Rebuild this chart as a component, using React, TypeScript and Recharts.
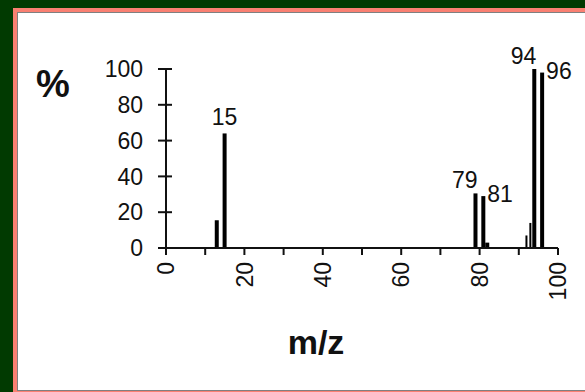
import React from 'react'
import { BarChart, Bar, XAxis, YAxis, LabelList } from 'recharts'

// CH3Br mass spectrum, relative abundance
const mzValues = [13, 15, 79, 81, 82, 92, 93, 94, 96]
const abundances = [15.5, 64, 30.5, 29, 3, 7, 14, 100, 98]
const labelledPeaks = [15, 79, 81, 94, 96]
const yTicks = [0, 20, 40, 60, 80, 100]
const xTicks = [0, 10, 20, 30, 40, 50, 60, 70, 80, 90, 100]
const xTickLabels = [0, 20, 40, 60, 80, 100]

const data = mzValues.map((mz, i) => ({ mz, abundance: abundances[i] }))

const FONT = '"Liberation Sans", Arial, sans-serif'
const INK = '#111'

// where each peak label sits relative to its bar
const labelSide: Record<number, 'top' | 'left' | 'right'> = {
  15: 'top',
  79: 'left',
  81: 'right',
  94: 'left',
  96: 'right',
}

const PeakShape = (props: any) => {
  const { x, y, width, height, payload } = props
  const w = payload.abundance < 15 && payload.mz > 85 ? 2 : 4
  const cx = x + width / 2
  return <rect x={cx - w / 2} y={y} width={w} height={height} fill="#000" />
}

const PeakLabel = (props: any) => {
  const { x, y, width, value } = props
  if (!labelledPeaks.includes(value)) return null
  const cx = x + width / 2
  const side = labelSide[value]
  let tx = cx
  let ty = y - 8
  let anchor: 'middle' | 'end' | 'start' = 'middle'
  if (side === 'left') {
    tx = cx + 2
    ty = y - 5
    anchor = 'end'
  } else if (side === 'right') {
    tx = cx + 4
    ty = y + 6
    anchor = 'start'
  }
  return (
    <text x={tx} y={ty} textAnchor={anchor} fontSize={23} fontFamily={FONT} fill={INK}>
      {value}
    </text>
  )
}

const YTick = (props: any) => {
  const { x, y, payload } = props
  return (
    <g>
      <line x1={x - 8} x2={x + 6} y1={y} y2={y} stroke={INK} strokeWidth={2} />
      <text x={x - 23} y={y} dy="0.36em" textAnchor="end" fontSize={23} fontFamily={FONT} fill={INK}>
        {payload.value}
      </text>
    </g>
  )
}

const XTick = (props: any) => {
  const { x, y, payload } = props
  return (
    <g>
      <line x1={x} x2={x} y1={y} y2={y + 7} stroke={INK} strokeWidth={2} />
      {xTickLabels.includes(payload.value) && (
        <text
          transform={`translate(${x},${y + 14}) rotate(-90)`}
          dy="0.36em"
          textAnchor="end"
          fontSize={23}
          fontFamily={FONT}
          fill={INK}
        >
          {payload.value}
        </text>
      )}
    </g>
  )
}

export default function App() {
  return (
    <div
      style={{
        position: 'absolute',
        left: 0,
        top: 0,
        width: 585,
        height: 392,
        background: '#013a01',
        overflow: 'hidden',
      }}
    >
      <div
        style={{ position: 'absolute', left: 13, top: 8, width: 700, height: 400, background: '#fa8072' }}
      />
      <div
        style={{
          position: 'absolute',
          left: 17,
          top: 12,
          width: 700,
          height: 379,
          boxSizing: 'border-box',
          border: '1px solid #808080',
          background: '#fff',
        }}
      />
      <div
        style={{
          position: 'absolute',
          left: 36,
          top: 60,
          fontFamily: FONT,
          fontWeight: 'bold',
          fontSize: 38,
          lineHeight: '48px',
          color: INK,
        }}
      >
        %
      </div>
      <div
        style={{
          position: 'absolute',
          left: 0,
          width: 632,
          top: 320,
          textAlign: 'center',
          fontFamily: FONT,
          fontWeight: 'bold',
          fontSize: 34,
          lineHeight: '44px',
          color: INK,
        }}
      >
        m/z
      </div>
      <div style={{ position: 'absolute', left: 0, top: 0 }}>
        <BarChart
          width={585}
          height={392}
          data={data}
          margin={{ top: 69, right: 27, bottom: 84, left: 106 }}
        >
          <XAxis
            dataKey="mz"
            type="number"
            domain={[0, 100]}
            ticks={xTicks}
            interval={0}
            height={60}
            tickSize={0}
            tickMargin={0}
            tickLine={false}
            axisLine={{ stroke: INK, strokeWidth: 2 }}
            tick={<XTick />}
          />
          <YAxis
            type="number"
            domain={[0, 100]}
            ticks={yTicks}
            interval={0}
            width={60}
            tickSize={0}
            tickMargin={0}
            tickLine={false}
            axisLine={{ stroke: INK, strokeWidth: 2 }}
            tick={<YTick />}
          />
          <Bar dataKey="abundance" barSize={4} shape={<PeakShape />} isAnimationActive={false}>
            <LabelList dataKey="mz" content={<PeakLabel />} />
          </Bar>
        </BarChart>
      </div>
    </div>
  )
}
